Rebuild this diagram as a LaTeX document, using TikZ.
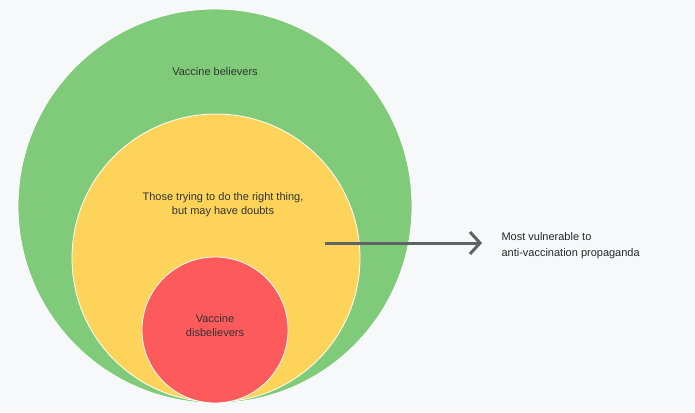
\documentclass[tikz,border=0pt]{standalone}
\usepackage{fontspec}
\setmainfont{Liberation Sans}
\usetikzlibrary{arrows.meta}
\definecolor{bg}{HTML}{F7F8F9}
\definecolor{gr}{HTML}{7FCB7A}
\definecolor{ye}{HTML}{FDD35A}
\definecolor{rd}{HTML}{FD5A5C}
\definecolor{ar}{HTML}{5F6368}
\definecolor{tx}{HTML}{333333}
\begin{document}
\begin{tikzpicture}[x=1pt,y=-1pt,
  ring/.style={circle,draw=white,line width=0.8pt,inner sep=0pt},
  lbl/.style={font=\fontsize{11}{14}\selectfont,text=tx,align=center},
  note/.style={font=\fontsize{11}{16}\selectfont,text=black!85,align=left,anchor=west}]
\fill[bg] (0,0) rectangle (695,412);
\useasboundingbox (0,0) rectangle (695,412);
\node[ring,fill=gr,minimum size=394pt] (g) at (215,206) {};
\node[ring,fill=ye,minimum size=288pt] (y) at (216,258) {};
\node[ring,fill=rd,minimum size=146pt] (r) at (215,330) {};
\node[lbl] (gt) at (215,72) {Vaccine believers};
\node[lbl] (yt) at (223,205) {Those trying to do the right thing,\\but may have doubts};
\node[lbl] (rt) at (215,326) {Vaccine\\disbelievers};
\coordinate (s) at (325,243);
\node[note] (n) at (498,246) {Most vulnerable to\\anti-vaccination propaganda};
\draw[ar,line width=3pt,-{Straight Barb[length=10pt,width=22pt,line width=3pt]}] (s) -- (482,243);
\end{tikzpicture}
\end{document}
